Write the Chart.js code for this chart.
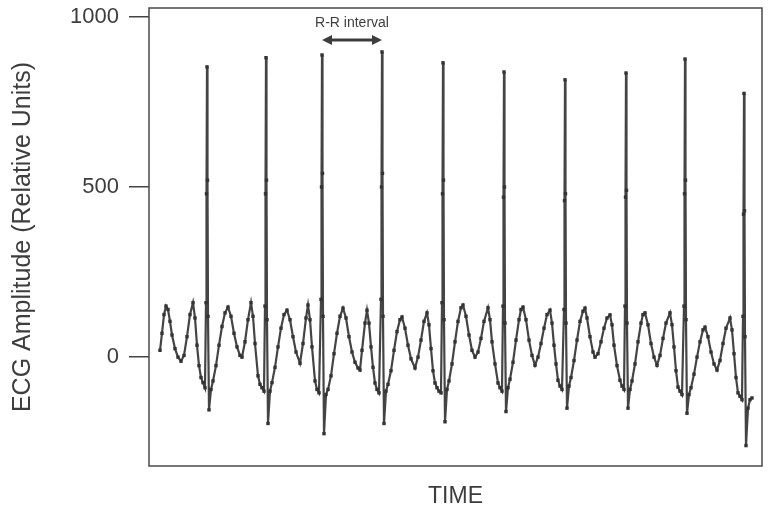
<!DOCTYPE html>
<html>
<head>
<meta charset="utf-8">
<title>ECG amplitude</title>
<script src="https://cdn.jsdelivr.net/npm/chart.js@4/dist/chart.umd.min.js"></script>
<style>
  html, body { margin: 0; padding: 0; background: #fff; }
  canvas { display: block; }
</style>
</head>
<body>
<canvas id="ecgChart" width="771" height="510"></canvas>
<script>
// Time in samples, one beat per line
const time = [
  11, 13, 15, 17, 19, 21, 23, 26, 29, 32, 35, 38, 41, 44, 46, 48, 50, 52, 54, 56, 57, 57.5, 58, 58.5, 59, 60,
  62, 64, 67, 70, 73, 76, 79, 82, 85, 88, 91, 93, 96, 99, 102, 104, 106, 109, 111, 113, 115, 116, 116.5, 117, 117.5, 118, 119,
  121, 123, 126, 129, 132, 135, 138, 141, 144, 147, 151, 154, 157, 159, 161, 163, 166, 168, 170, 172, 172.5, 173, 173.5, 174, 175,
  177, 179, 182, 185, 188, 191, 194, 197, 200, 203, 206, 209, 211, 213, 216, 218, 220, 222, 224, 226, 228, 230, 232, 232.5, 233, 233.5, 234, 235,
  237, 239, 242, 245, 248, 251, 253, 256, 259, 262, 266, 269, 272, 275, 278, 280, 282, 284, 286, 288, 290, 292, 293, 293.5, 294, 294.5, 295, 296,
  298, 300, 303, 306, 309, 312, 314, 317, 320, 323, 326, 329, 332, 335, 339, 341, 343, 346, 349, 351, 353, 354, 354.5, 355, 355.5, 356, 357,
  359, 361, 364, 367, 370, 372, 374, 377, 380, 383, 386, 389, 392, 395, 398, 401, 403, 405, 407, 409, 411, 413, 415, 415.5, 416, 416.5, 417, 418,
  420, 422, 425, 428, 431, 434, 436, 438, 441, 444, 446, 449, 452, 455, 458, 461, 463, 465, 468, 471, 473, 475, 476, 476.5, 477, 477.5, 478, 479,
  481, 483, 486, 489, 492, 494, 496, 499, 502, 505, 508, 511, 514, 517, 521, 523, 525, 527, 529, 531, 533, 535, 535.5, 536, 536.5, 537, 538,
  540, 542, 545, 548, 551, 554, 556, 559, 562, 565, 568, 571, 574, 577, 581, 583, 585, 587, 589, 591, 593, 594, 594.5, 595, 595.5, 596, 597,
  599, 601, 603
];

// ECG amplitude (relative units), same layout as time
const amplitude = [
  20, 70, 125, 150, 140, 105, 65, 25, 0, -12, 5, 60, 125, 160, 115, 35, -25, -60, -75, -90, 160, 480, 853, 520, 120, -155,
  -95, -70, -25, 35, 90, 130, 147, 120, 70, 30, 5, 0, 45, 110, 160, 120, 40, -55, -80, -90, -100, 150, 480, 880, 520, 110, -195,
  -100, -75, -30, 30, 85, 125, 138, 110, 60, 15, -18, 40, 115, 153, 110, 30, -70, -95, -105, 170, 500, 888, 540, 120, -225,
  -110, -95, -55, 10, 70, 120, 144, 115, 60, 15, -15, -32, -38, 20, 100, 138, 100, 30, -30, -76, -95, -105, 170, 500, 897, 540, 120, -195,
  -100, -80, -40, 20, 75, 110, 118, 85, 35, -5, -32, 0, 50, 105, 130, 95, 25, -40, -76, -90, -100, -105, 160, 480, 865, 520, 110, -190,
  -95, -70, -20, 45, 105, 145, 153, 120, 65, 20, 0, 15, 55, 105, 145, 110, 45, -20, -76, -90, -100, 150, 470, 838, 500, 100, -160,
  -90, -65, -15, 50, 110, 140, 147, 110, 50, 5, -24, 0, 40, 85, 125, 138, 100, 35, -20, -68, -85, -95, 140, 460, 815, 480, 100, -150,
  -85, -60, -10, 50, 105, 135, 144, 115, 60, 15, 0, 10, 45, 85, 115, 124, 95, 35, -25, -68, -85, -95, 150, 470, 835, 490, 100, -150,
  -95, -70, -20, 45, 100, 125, 130, 95, 40, 0, -24, 5, 55, 100, 130, 95, 30, -40, -88, -100, -110, 150, 480, 876, 520, 110, -165,
  -110, -90, -50, 0, 45, 80, 88, 60, 15, -20, -38, -10, 40, 85, 115, 80, 10, -60, -105, -115, -125, 120, 420, 775, 430, 60, -260,
  -150, -125, -120
];

// R peak times (samples)
const rPeakTimes = [58, 117, 173, 233, 294, 355, 416, 477, 536, 595];
const yTicks = [0, 500, 1000];

const ink = '#3d3d3d';

// box around the plot
const frame = {
  id: 'frame',
  afterDraw(chart) {
    const { ctx, chartArea: a } = chart;
    ctx.save();
    ctx.strokeStyle = '#4a4a4a';
    ctx.lineWidth = 1.5;
    ctx.strokeRect(a.left, a.top, a.right - a.left, a.bottom - a.top);
    ctx.restore();
  }
};

// "R-R interval" label with arrow between beats 3 and 4
const rrNote = {
  id: 'rrNote',
  afterDraw(chart) {
    const { ctx, scales: { x, y } } = chart;
    const x1 = x.getPixelForValue(rPeakTimes[2]);
    const x2 = x.getPixelForValue(rPeakTimes[3]);
    const ya = y.getPixelForValue(932);
    const yt = y.getPixelForValue(982);
    ctx.save();
    ctx.fillStyle = ink;
    ctx.strokeStyle = ink;
    ctx.font = '14px "Liberation Sans", Arial, sans-serif';
    ctx.textAlign = 'center';
    ctx.textBaseline = 'middle';
    ctx.fillText('R-R interval', (x1 + x2) / 2, yt);
    ctx.lineWidth = 3;
    ctx.beginPath();
    ctx.moveTo(x1 + 8, ya);
    ctx.lineTo(x2 - 8, ya);
    ctx.stroke();
    ctx.beginPath();
    ctx.moveTo(x1, ya); ctx.lineTo(x1 + 10, ya - 5); ctx.lineTo(x1 + 10, ya + 5); ctx.closePath();
    ctx.moveTo(x2, ya); ctx.lineTo(x2 - 10, ya - 5); ctx.lineTo(x2 - 10, ya + 5); ctx.closePath();
    ctx.fill();
    ctx.restore();
  }
};

const ctx = document.getElementById('ecgChart').getContext('2d');

new Chart(ctx, {
  type: 'line',
  data: {
    datasets: [{
      data: time.map((t, i) => ({ x: t, y: amplitude[i] })),
      borderColor: '#444',
      borderWidth: 2.2,
      pointStyle: 'rect',
      pointRadius: 2.4,
      pointBackgroundColor: '#333',
      pointBorderWidth: 0,
      tension: 0
    }]
  },
  options: {
    responsive: false,
    animation: false,
    layout: { padding: { top: 8, right: 9, left: 0, bottom: 0 } },
    plugins: {
      legend: { display: false },
      tooltip: { enabled: false }
    },
    scales: {
      x: {
        type: 'linear',
        min: 0,
        max: 613,
        ticks: { display: false },
        grid: { display: false },
        border: { display: false },
        title: {
          display: true,
          text: 'TIME',
          color: ink,
          font: { family: 'Liberation Sans', size: 23 },
          padding: { top: 0, bottom: 0 }
        },
        afterFit(scale) { scale.height = 44; }
      },
      y: {
        min: -320,
        max: 1026,
        afterBuildTicks(scale) {
          scale.ticks = yTicks.map(v => ({ value: v }));
        },
        ticks: {
          color: ink,
          padding: 10,
          font: { family: 'Liberation Sans', size: 22 },
          callback: v => String(v)
        },
        grid: {
          drawOnChartArea: false,
          drawTicks: true,
          tickLength: 20,
          color: '#444',
          lineWidth: 1.5
        },
        border: { display: false },
        title: {
          display: true,
          text: 'ECG Amplitude (Relative Units)',
          color: ink,
          font: { family: 'Liberation Sans', size: 25 },
          padding: { top: 8, bottom: 0 }
        },
        afterFit(scale) {
          scale.width = 149;
          scale.paddingTop = 0;
          scale.paddingBottom = 0;
        }
      }
    }
  },
  plugins: [frame, rrNote]
});
</script>
</body>
</html>
